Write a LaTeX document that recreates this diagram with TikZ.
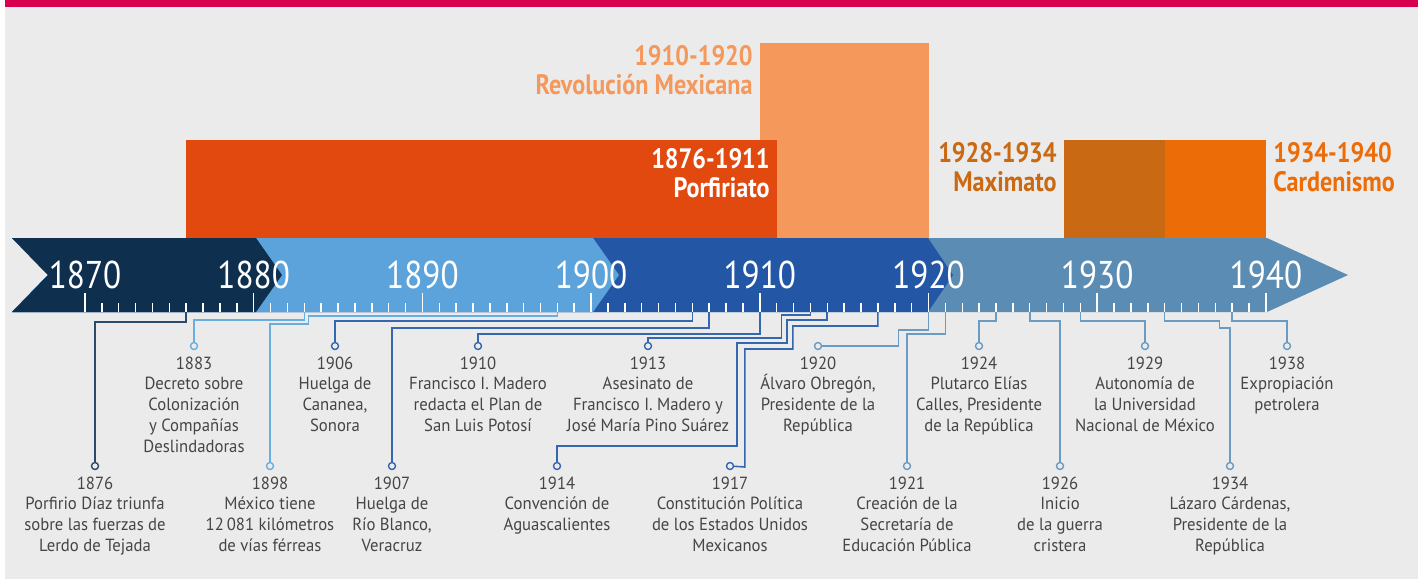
\documentclass[tikz,border=0pt]{standalone}
\usepackage{fontspec}
\setmainfont{PT Sans}[FakeStretch=0.86]
\newfontfamily\evfont{PT Sans}[FakeStretch=0.95]
\usetikzlibrary{positioning}

\definecolor{topbar}{HTML}{D6004F}
\definecolor{bgrey}{HTML}{EBEBEB}
\definecolor{evgrey}{HTML}{454545}
\definecolor{navy}{HTML}{0F2F4F}
\definecolor{navyline}{HTML}{2C4A6A}
\definecolor{lightblue}{HTML}{5BA3DA}
\definecolor{lightline}{HTML}{6AAEE0}
\definecolor{medblue}{HTML}{2357A6}
\definecolor{medline}{HTML}{3566B0}
\definecolor{steel}{HTML}{5A8CB4}
\definecolor{steelline}{HTML}{6B9AC2}
\definecolor{porf}{HTML}{E2490F}
\definecolor{revo}{HTML}{F4985B}
\definecolor{maxi}{HTML}{CA6913}
\definecolor{card}{HTML}{EC6C08}

\begin{document}
\begin{tikzpicture}[x=0.2mm, y=-0.2mm,
  evdot/.style={circle, draw, fill=bgrey, line width=0.8pt, inner sep=0pt, minimum size=1.4mm},
  evtext/.style={align=center, inner sep=0pt, text=evgrey, font=\evfont\fontsize{10}{11.9}\selectfont},
  conn/.style={line width=0.9pt},
  yeartick/.style={white, line width=0.85pt},
  yearlbl/.style={text=white, inner sep=0pt, font=\fontsize{22}{24}\selectfont},
  period/.style={inner sep=0pt, font=\bfseries\fontsize{16}{16.4}\selectfont}]

  \useasboundingbox (0,0) rectangle (1423,579);
  \fill[white] (0,0) rectangle (1423,579);
  \fill[bgrey] (5,7) rectangle (1418,579);
  \fill[topbar] (5,0) rectangle (1418,7);

  % periods
  \fill[revo] (759.8,43) rectangle (928.5,238);
  \fill[porf] (186.2,140) rectangle (776.6,238);
  \fill[maxi] (1063.5,140) rectangle (1164.7,238);
  \fill[card] (1164.7,140) rectangle (1266,238);

  \node[period, text=white, align=right, anchor=north east] (porfiriato) at (770,148) {1876-1911\\Porfiriato};
  \node[period, text=revo, align=right, anchor=north east] (revolucion) at (753,45) {1910-1920\\Revolución Mexicana};
  \node[period, text=maxi, align=right, anchor=north east] (maximato) at (1057,142) {1928-1934\\Maximato};
  \node[period, text=card, align=left, anchor=north west] (cardenismo) at (1273,142) {1934-1940\\Cardenismo};

  % time band
  \fill[steel] (12,238) -- (1267,238) -- (1348,275) -- (1267,312) -- (12,312) -- (48,275) -- cycle;
  \fill[medblue] (12,238) -- (928,238) -- (953,275) -- (928,312) -- (12,312) -- (48,275) -- cycle;
  \fill[lightblue] (12,238) -- (593,238) -- (619,275) -- (593,312) -- (12,312) -- (48,275) -- cycle;
  \fill[navy] (12,238) -- (256,238) -- (282,275) -- (256,312) -- (12,312) -- (48,275) -- cycle;

  \foreach \y in {1870,...,1940}{
    \pgfmathsetmacro\tx{85+16.87*(\y-1870)}
    \pgfmathtruncatemacro\mdec{mod(\y,10)}
    \coordinate (t\y) at (\tx,312);
    \ifnum\mdec=0
      \draw[yeartick] (t\y) -- ++(0,-19);
      \node[yearlbl] (y\y) at (\tx,275) {\y};
    \else
      \draw[yeartick] (t\y) -- ++(0,-9);
    \fi
  }

  % upper row
  \node[evdot, draw=lightline] (e1883) at (194,346) {};
  \node[evtext, below=1.2mm of e1883] (l1883) {1883\\Decreto sobre\\Colonización\\y Compañías\\Deslindadoras};
  \node[evdot, draw=medline] (e1906) at (335,346) {};
  \node[evtext, below=1.2mm of e1906] (l1906) {1906\\Huelga de\\Cananea,\\Sonora};
  \node[evdot, draw=medline] (e1910) at (478,346) {};
  \node[evtext, below=1.2mm of e1910] (l1910) {1910\\Francisco I. Madero\\redacta el Plan de\\San Luis Potosí};
  \node[evdot, draw=medline] (e1913) at (648,346) {};
  \node[evtext, below=1.2mm of e1913] (l1913) {1913\\Asesinato de\\Francisco I. Madero y\\José María Pino Suárez};
  \node[evdot, draw=steelline] (e1920) at (818,346) {};
  \node[evtext, below=1.2mm of e1920] (l1920) {1920\\Álvaro Obregón,\\Presidente de la\\República};
  \node[evdot, draw=steelline] (e1924) at (979,346) {};
  \node[evtext, below=1.2mm of e1924] (l1924) {1924\\Plutarco Elías\\Calles, Presidente\\de la República};
  \node[evdot, draw=steelline] (e1929) at (1145,346) {};
  \node[evtext, below=1.2mm of e1929] (l1929) {1929\\Autonomía de\\la Universidad\\Nacional de México};
  \node[evdot, draw=steelline] (e1938) at (1287,346) {};
  \node[evtext, below=1.2mm of e1938] (l1938) {1938\\Expropiación\\petrolera};

  % lower row
  \node[evdot, draw=navyline] (e1876) at (95,466) {};
  \node[evtext, below=1.2mm of e1876] (l1876) {1876\\Porfirio Díaz triunfa\\sobre las fuerzas de\\Lerdo de Tejada};
  \node[evdot, draw=lightline] (e1898) at (270,466) {};
  \node[evtext, below=1.2mm of e1898] (l1898) {1898\\México tiene\\12\,081 kilómetros\\de vías férreas};
  \node[evdot, draw=medline] (e1907) at (392,466) {};
  \node[evtext, below=1.2mm of e1907] (l1907) {1907\\Huelga de\\Río Blanco,\\Veracruz};
  \node[evdot, draw=medline] (e1914) at (557,466) {};
  \node[evtext, below=1.2mm of e1914] (l1914) {1914\\Convención de\\Aguascalientes};
  \node[evdot, draw=medline] (e1917) at (730,466) {};
  \node[evtext, below=1.2mm of e1917] (l1917) {1917\\Constitución Política\\de los Estados Unidos\\Mexicanos};
  \node[evdot, draw=steelline] (e1921) at (907,466) {};
  \node[evtext, below=1.2mm of e1921] (l1921) {1921\\Creación de la\\Secretaría de\\Educación Pública};
  \node[evdot, draw=steelline] (e1926) at (1060,466) {};
  \node[evtext, below=1.2mm of e1926] (l1926) {1926\\Inicio\\de la guerra\\cristera};
  \node[evdot, draw=steelline] (e1934) at (1230,466) {};
  \node[evtext, below=1.2mm of e1934] (l1934) {1934\\Lázaro Cárdenas,\\Presidente de la\\República};

  % connectors
  \draw[conn, navyline] (t1876) -- ++(0,10) -| (e1876);
  \draw[conn, lightline] (t1883) -- ++(0,8) -| (e1883);
  \draw[conn, lightline] (t1898) -- ++(0,4) -| ++(-249,8) -| (e1898);
  \draw[conn, medline] (t1906) -- ++(0,9) -| (e1906);
  \draw[conn, medline] (t1907) -- ++(0,16) -| (e1907);
  \draw[conn, medline] (t1910) -- ++(0,22) -| (e1910);
  \draw[conn, medline] (t1913) -- ++(0,3) -| ++(-29,23) -| (e1913);
  \draw[conn, medline] (t1914) -- ++(0,8) -| ++(-40,23) -| ++(-50,103) -| (e1914);
  \draw[conn, medline] (t1917) -- ++(0,14) -| ++(-85,23) -| ++(-48,118) -- (e1917);
  \draw[conn, steelline] (t1920) -- ++(0,18) -| ++(-30,16) -- (e1920);
  \draw[conn, steelline] (t1921) -- ++(0,22) -| (e1921);
  \draw[conn, steelline] (t1924) -- ++(0,9) -| (e1924);
  \draw[conn, steelline] (t1926) -- ++(0,9) -| (e1926);
  \draw[conn, steelline] (t1929) -- ++(0,9) -| (e1929);
  \draw[conn, steelline] (t1934) -- ++(0,9) -| ++(55,7) -| (e1934);
  \draw[conn, steelline] (t1938) -- ++(0,9) -| (e1938);

\end{tikzpicture}
\end{document}
